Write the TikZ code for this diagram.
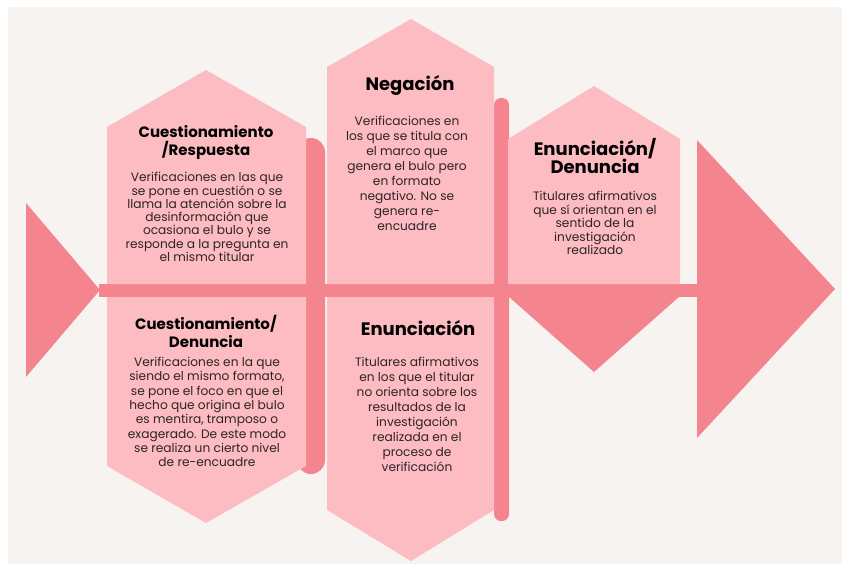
\documentclass[tikz,border=0pt]{standalone}
\usepackage{fontspec}
\setmainfont{Poppins}
\definecolor{paper}{HTML}{F7F3F0}
\definecolor{petal}{HTML}{FCBCC2}
\definecolor{rose}{HTML}{F4848D}
\definecolor{ink}{HTML}{2E2426}

\tikzset{
  petalshape/.style={fill=petal, draw=none},
  roseshape/.style={fill=rose, draw=none},
  headtext/.style={font=\bfseries\fontsize{#1}{18}\selectfont, align=center, text=black, inner sep=0pt},
  headtext/.default=15,
  bodytext/.style={font=\fontsize{12.2}{#1}\selectfont, align=center, text=ink, inner sep=0pt},
  bodytext/.default=13.5,
}

\begin{document}
\begin{tikzpicture}[x=1pt, y=-1pt]
  % canvas
  \useasboundingbox (0,0) rectangle (842,564);
  \fill[white] (0,0) rectangle (842,564);
  \fill[paper] (8,7) rectangle (842,564);

  % spine and ribs
  \fill[roseshape] (99,284) rectangle (697,297);
  \fill[roseshape, rounded corners=14pt] (297,138) rectangle (325,474);
  \fill[roseshape, rounded corners=7pt] (494,98) rectangle (509,521);

  % tail and head of the fish
  \fill[roseshape] (26,203) -- (26,377) -- (100,290) -- cycle;
  \fill[roseshape] (697,140) -- (697,438) -- (835,289) -- cycle;

  % panels
  \fill[petalshape] (107,284) -- (107,127) -- (206,70) -- (306,127) -- (306,284) -- cycle;
  \fill[petalshape] (107,297) -- (107,466) -- (206,523) -- (306,466) -- (306,297) -- cycle;
  \fill[petalshape] (327,284) -- (327,67) -- (411,19) -- (494,67) -- (494,284) -- cycle;
  \fill[petalshape] (327,297) -- (327,510) -- (411,561) -- (494,510) -- (494,297) -- cycle;
  \fill[petalshape] (508,284) -- (508,139) -- (594,86) -- (680,139) -- (680,284) -- cycle;
  \fill[roseshape] (508,296) -- (680,296) -- (594,372) -- cycle;

  % texts
  \node[headtext=15] (t1) at (206,142) {Cuestionamiento\\/Respuesta};
  \node[bodytext=13.3] (b1) at (207,217) {Verificaciones en las que\\se pone en cuestión o se\\llama la atención sobre la\\desinformación que\\ocasiona el bulo y se\\responde a la pregunta en\\el mismo titular};

  \node[headtext=15] (t2) at (206,331) {Cuestionamiento/\\Denuncia};
  \node[bodytext=14.3] (b2) at (207,412) {Verificaciones en la que\\siendo el mismo formato,\\se pone el foco en que el\\hecho que origina el bulo\\es mentira, tramposo o\\exagerado. De este modo\\se realiza un cierto nivel\\de re-encuadre};

  \node[headtext=18] (t3) at (410,85) {Negación};
  \node[bodytext=15] (b3) at (407,173) {Verificaciones en\\los que se titula con\\el marco que\\genera el bulo pero\\en formato\\negativo. No se\\genera re-\\encuadre};

  \node[headtext=18] (t4) at (418,328) {Enunciación};
  \node[bodytext=15] (b4) at (417,414) {Titulares afirmativos\\en los que el titular\\no orienta sobre los\\resultados de la\\investigación\\realizada en el\\proceso de\\verificación};

  \node[headtext=18] (t5) at (595,156) {Enunciación/\\Denuncia};
  \node[bodytext=13.5] (b5) at (595,223) {Titulares afirmativos\\que sí orientan en el\\sentido de la\\investigación\\realizado};
\end{tikzpicture}
\end{document}
